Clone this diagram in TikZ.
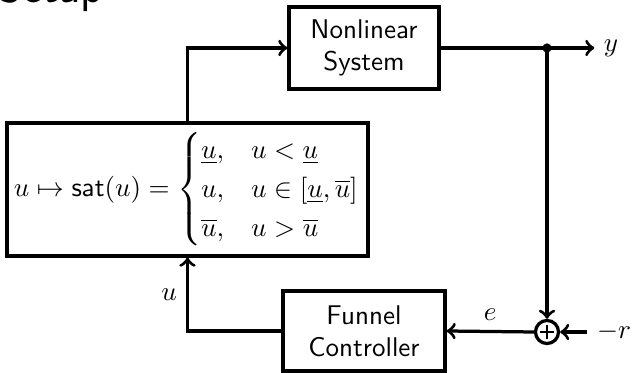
\documentclass[tikz,border=0pt]{standalone}
\usepackage{amsmath,amssymb}

\begin{document}
\begin{tikzpicture}[>=to,every node/.style={align=center},
    bloque/.style={draw,very thick,font=\sffamily,inner sep=0pt},
    sumador/.style={draw,circle,very thick,minimum size=0.30cm,inner sep=0pt}]
    \useasboundingbox (0,0) rectangle (8.255,4.849);
    % titulo (cortado arriba)
    \node[anchor=base west,font=\LARGE\sffamily,inner sep=0pt] (titulo) at (-0.03,4.82) {Setup};
    % bloques
    \node[bloque,minimum width=1.95cm,minimum height=1.066cm] (planta) at (4.732,4.225) {Nonlinear\\System};
    \node[bloque,minimum width=4.693cm,minimum height=1.729cm] (sat) at (2.4375,2.3855)
      {$u\mapsto\mathsf{sat}(u)=\begin{cases}\underline{u}, & u<\underline{u}\\
        u, & u\in[\underline{u},\overline{u}]\\
        \overline{u}, & u>\overline{u}\end{cases}$};
    \node[bloque,minimum width=2.106cm,minimum height=1.04cm] (funnel) at (4.732,0.546) {Funnel\\Controller};
    \node[sumador] (suma) at (7.111,0.533) {};
    \draw[thin] ([yshift=-0.09cm]suma.center) -- ([yshift=0.09cm]suma.center);
    \draw[thin] ([xshift=-0.09cm]suma.center) -- ([xshift=0.09cm]suma.center);
    % senales
    \coordinate (rama) at (7.111,4.225);
    \node (ysal) at (7.943,4.225) {$y$};
    \node (menosr) at (7.982,0.533) {$-r$};
    % conexiones
    \draw[very thick,->] (sat.north) |- (planta.west);
    \draw[very thick] (planta.east) -- (rama);
    \draw[very thick,->] (rama) -- (ysal.west);
    \fill (rama) circle (0.06);
    \draw[very thick,->] (rama) -- (suma.north);
    \draw[very thick,->] (menosr.west) -- (suma.east);
    \draw[very thick,->] (suma.west) -- node[above] {$e$} (funnel.east);
    \draw[very thick,->] (funnel.west) -| node[pos=0.75,left] {$u$} (sat.south);
\end{tikzpicture}
\end{document}
